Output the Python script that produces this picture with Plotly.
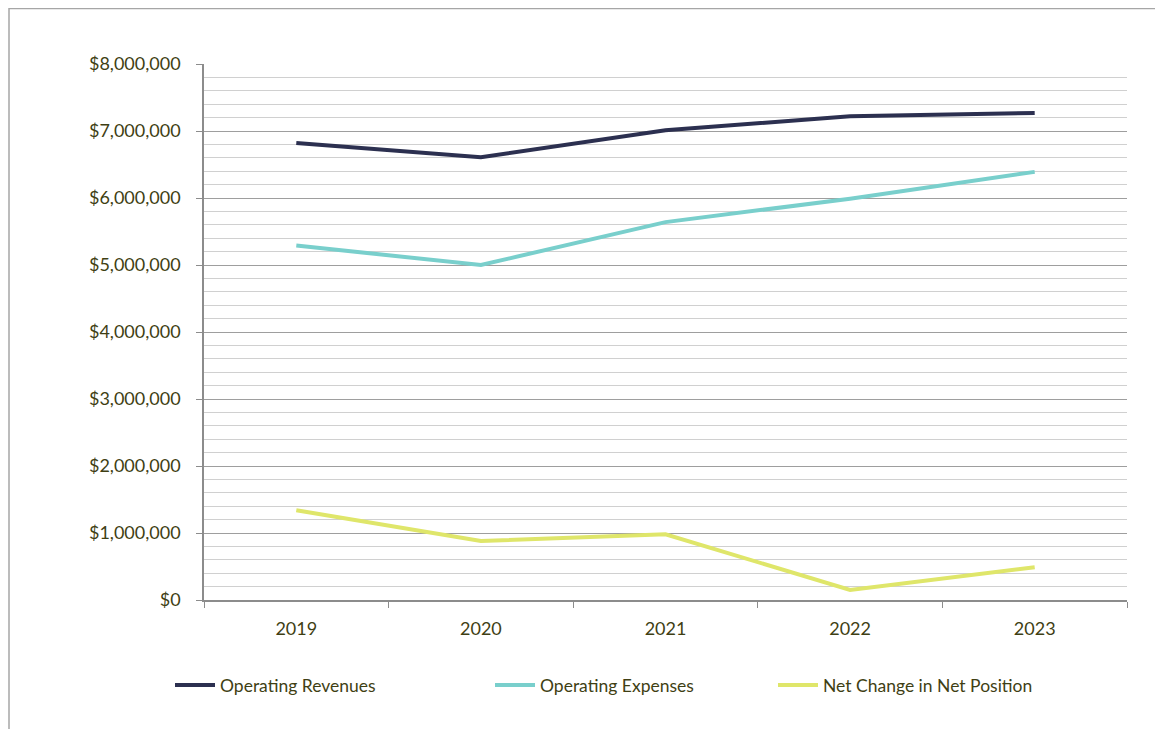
import plotly.graph_objects as go

years = ["2019", "2020", "2021", "2022", "2023"]
operating_revenues = [6820000, 6610000, 7010000, 7220000, 7270000]
operating_expenses = [5290000, 5000000, 5640000, 5990000, 6390000]
net_change = [1340000, 880000, 980000, 150000, 490000]

series = [
    ("Operating Revenues", operating_revenues, "#2c3050"),
    ("Operating Expenses", operating_expenses, "#79cfcc"),
    ("Net Change in Net Position", net_change, "#dfe66a"),
]

text_color = "#3f3f14"
font_family = "Lato, 'Open Sans', sans-serif"

# page is offset by the 8px body margin
OFF = 8
W, H = 1163 - OFF, 729 - OFF
L, R, T, B = 204 - OFF, 36, 64 - OFF, 129
pw, ph = W - L - R, H - T - B

def px_x(v):
    return (v - OFF - L) / pw

def px_y(v):
    return (H - B - (v - OFF)) / ph

legend_ids = ["legend", "legend2", "legend3"]
legend_x = [170, 490, 773]

fig = go.Figure()
for (name, vals, color), lid in zip(series, legend_ids):
    fig.add_trace(go.Scatter(
        x=years, y=vals, name=name, mode="lines",
        line=dict(color=color, width=4), legend=lid,
    ))

fig.add_shape(type="rect", xref="paper", yref="paper",
              x0=px_x(9), x1=px_x(1175), y0=px_y(740), y1=px_y(8.5),
              line=dict(color="#a6a6a6", width=1.5), fillcolor="rgba(0,0,0,0)", layer="below")

legend_layout = {}
for lid, lx in zip(legend_ids, legend_x):
    legend_layout[lid] = dict(orientation="h", x=px_x(lx), xanchor="left", y=px_y(685),
                              yanchor="middle", font=dict(size=17.5, color=text_color),
                              itemwidth=40, bgcolor="rgba(0,0,0,0)")

fig.update_layout(
    width=W, height=H,
    margin=dict(l=L, r=R, t=T, b=B),
    paper_bgcolor="white", plot_bgcolor="white",
    font=dict(family=font_family, color=text_color, size=18),
    showlegend=True,
    **legend_layout,
    xaxis=dict(
        type="category", tickson="boundaries", ticks="outside", ticklen=6,
        tickcolor="#8c8c8c", showline=True, linecolor="#8c8c8c", linewidth=1.5,
        showgrid=False, tickfont=dict(size=18, color=text_color),
        range=[-0.5, 4.5], ticklabelstandoff=12,
    ),
    yaxis=dict(
        range=[0, 8000000], dtick=1000000, tickformat="$,.0f",
        ticks="outside", ticklen=6, tickcolor="#8c8c8c",
        showline=True, linecolor="#8c8c8c", linewidth=1.5,
        showgrid=True, gridcolor="#9e9e9e", gridwidth=1.2,
        zeroline=False, ticklabelstandoff=12,
        minor=dict(dtick=200000, showgrid=True, gridcolor="#d0d0d0", gridwidth=1),
        tickfont=dict(size=18, color=text_color),
    ),
)

fig.write_html("out.html")
